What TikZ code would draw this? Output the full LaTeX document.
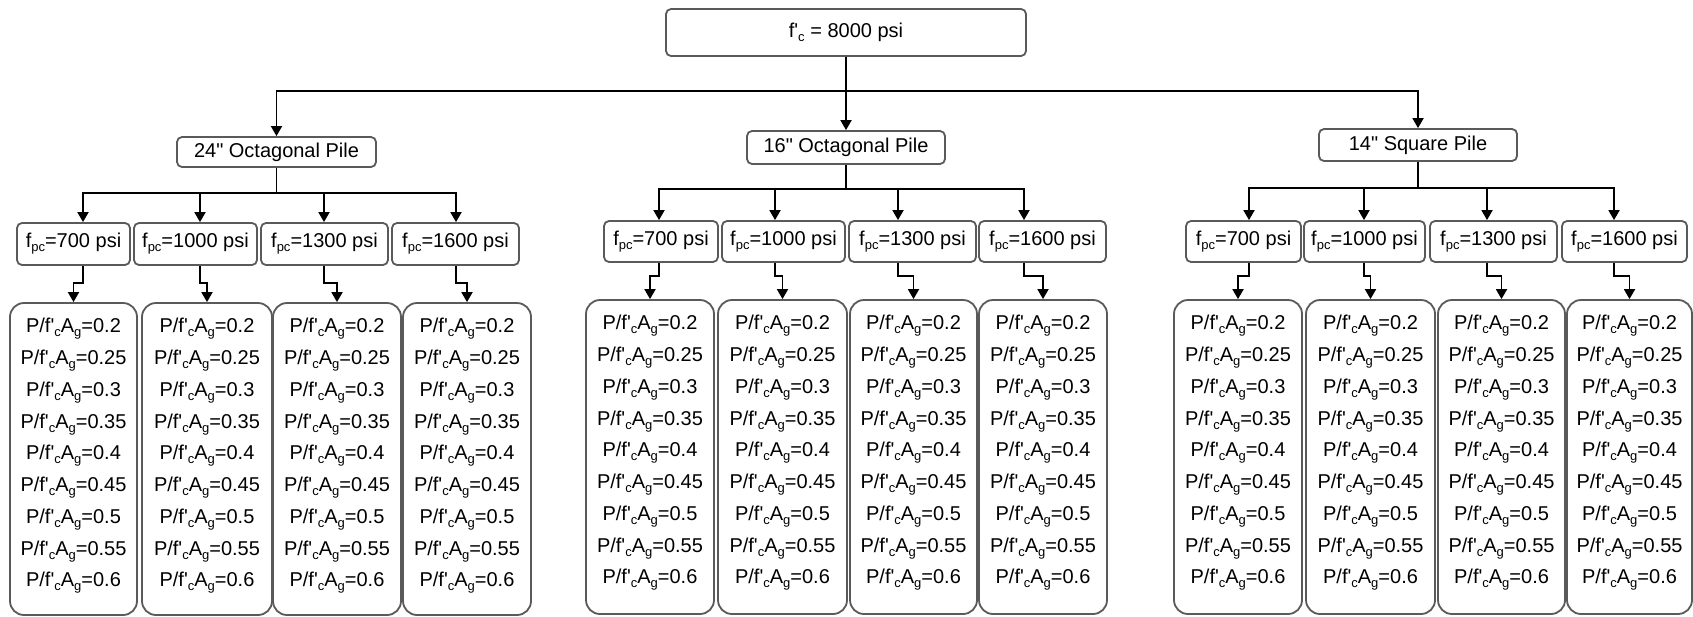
\documentclass[tikz,border=0pt]{standalone}
\usetikzlibrary{arrows.meta}
\font\fmain="Liberation Sans" at 20pt
\font\fsub="Liberation Sans" at 13pt
\newcommand\sbs[1]{\raisebox{-4pt}{\fsub #1}}
\newcommand\pl[1]{P/f'\sbs{c}A\sbs{g}=#1}
\newcommand\plist{\pl{0.2}\\\pl{0.25}\\\pl{0.3}\\\pl{0.35}\\\pl{0.4}\\\pl{0.45}\\\pl{0.5}\\\pl{0.55}\\\pl{0.6}}
\definecolor{bord}{HTML}{5A5A5A}
\begin{document}
\begin{tikzpicture}[x=1pt,y=-1pt,
  box/.style={draw=bord, line width=1.8pt, fill=white, inner sep=0pt, font=\fmain, rounded corners=5pt},
  fbox/.style={box, minimum height=42pt},
  pbox/.style={box, rounded corners=14pt,
     label={[anchor=north, yshift=-16pt, align=center, inner sep=0pt, font={\fmain\baselineskip=31.75pt}]north:\plist}},
  arr/.style={draw=black, line width=1.8pt, -{Triangle[width=11pt,length=10pt]}},
  conn/.style={draw=black, line width=1.8pt}]
\fill[white] (0,0) rectangle (1693,616);
\useasboundingbox (0,0) rectangle (1693,616);

% top
\node[box, minimum width=360pt, minimum height=47pt] (top) at (846,32.5) {f'\sbs{c} = 8000 psi};

% piles
\node[box, minimum width=199pt, minimum height=30pt] (m24) at (276.5,152) {24" Octagonal Pile};
\node[box, minimum width=198pt, minimum height=33pt] (m16) at (846,147.5) {16" Octagonal Pile};
\node[box, minimum width=198pt, minimum height=32pt] (m14) at (1418,145) {14" Square Pile};

% fpc boxes 24
\node[fbox, minimum width=113pt] (f24a) at (73.5,244) {f\sbs{pc}=700 psi};
\node[fbox, minimum width=123pt] (f24b) at (195.5,244) {f\sbs{pc}=1000 psi};
\node[fbox, minimum width=127pt] (f24c) at (324.5,244) {f\sbs{pc}=1300 psi};
\node[fbox, minimum width=127pt] (f24d) at (455.5,244) {f\sbs{pc}=1600 psi};
% fpc boxes 16
\node[fbox, minimum width=114pt, minimum height=41pt] (f16a) at (661,241.5) {f\sbs{pc}=700 psi};
\node[fbox, minimum width=123pt, minimum height=41pt] (f16b) at (783.5,241.5) {f\sbs{pc}=1000 psi};
\node[fbox, minimum width=127pt, minimum height=41pt] (f16c) at (912.5,241.5) {f\sbs{pc}=1300 psi};
\node[fbox, minimum width=127pt, minimum height=41pt] (f16d) at (1042.5,241.5) {f\sbs{pc}=1600 psi};
% fpc boxes 14
\node[fbox, minimum width=115pt, minimum height=41pt] (f14a) at (1243.5,241.5) {f\sbs{pc}=700 psi};
\node[fbox, minimum width=121pt, minimum height=41pt] (f14b) at (1364.5,241.5) {f\sbs{pc}=1000 psi};
\node[fbox, minimum width=127pt, minimum height=41pt] (f14c) at (1493.5,241.5) {f\sbs{pc}=1300 psi};
\node[fbox, minimum width=125pt, minimum height=41pt] (f14d) at (1624.5,241.5) {f\sbs{pc}=1600 psi};

% bottom boxes 24
\node[pbox, minimum width=127pt, minimum height=312pt] (p24a) at (73.5,459) {};
\node[pbox, minimum width=130pt, minimum height=312pt] (p24b) at (207,459) {};
\node[pbox, minimum width=128pt, minimum height=312pt] (p24c) at (337,459) {};
\node[pbox, minimum width=128pt, minimum height=312pt] (p24d) at (467,459) {};
% bottom boxes 16
\node[pbox, minimum width=128pt, minimum height=314pt] (p16a) at (650,457) {};
\node[pbox, minimum width=129pt, minimum height=314pt] (p16b) at (782.5,457) {};
\node[pbox, minimum width=127pt, minimum height=314pt] (p16c) at (913.5,457) {};
\node[pbox, minimum width=128pt, minimum height=314pt] (p16d) at (1043,457) {};
% bottom boxes 14
\node[pbox, minimum width=128pt, minimum height=314pt] (p14a) at (1238,457) {};
\node[pbox, minimum width=129pt, minimum height=314pt] (p14b) at (1370.5,457) {};
\node[pbox, minimum width=127pt, minimum height=314pt] (p14c) at (1501.5,457) {};
\node[pbox, minimum width=125pt, minimum height=314pt] (p14d) at (1629.5,457) {};

% top-level connectors
\coordinate (bus) at (846,91);
\draw[arr] (top.south) -- (m16.north);
\draw[arr] (top.south) -- (bus) -| (m24.north);
\draw[arr] (top.south) -- (bus) -| (m14.north);

% second level
\coordinate (b24) at (276.5,193);
\coordinate (b16) at (846,189);
\coordinate (b14) at (1418,188);
\draw[conn] (m24.south) -- (b24);
\draw[conn] (m16.south) -- (b16);
\draw[conn] (m14.south) -- (b14);
\draw[arr] (b24) -| ([xshift=9.5pt]f24a.north);
\draw[arr] (b24) -| ([xshift=4.5pt]f24b.north);
\draw[arr] (b24) -| ([xshift=-0.5pt]f24c.north);
\draw[arr] (b24) -| ([xshift=0.5pt]f24d.north);
\draw[arr] (b16) -| ([xshift=-2pt]f16a.north);
\draw[arr] (b16) -| ([xshift=-8.5pt]f16b.north);
\draw[arr] (b16) -| ([xshift=-14.5pt]f16c.north);
\draw[arr] (b16) -| ([xshift=-18.5pt]f16d.north);
\draw[arr] (b14) -| ([xshift=5.5pt]f14a.north);
\draw[arr] (b14) -| ([xshift=-0.5pt]f14b.north);
\draw[arr] (b14) -| ([xshift=-6.5pt]f14c.north);
\draw[arr] (b14) -| ([xshift=-10.5pt]f14d.north);

% third level
\draw[arr] ([xshift=9.5pt]f24a.south) |- ([yshift=19pt]p24a.north) -- (p24a.north);
\draw[arr] ([xshift=4.5pt]f24b.south) |- ([yshift=19pt]p24b.north) -- (p24b.north);
\draw[arr] ([xshift=-0.5pt]f24c.south) |- ([yshift=19pt]p24c.north) -- (p24c.north);
\draw[arr] ([xshift=0.5pt]f24d.south) |- ([yshift=19pt]p24d.north) -- (p24d.north);
\draw[arr] ([xshift=-2pt]f16a.south) |- ([yshift=23pt]p16a.north) -- (p16a.north);
\draw[arr] ([xshift=-8.5pt]f16b.south) |- ([yshift=23pt]p16b.north) -- (p16b.north);
\draw[arr] ([xshift=-14.5pt]f16c.south) |- ([yshift=23pt]p16c.north) -- (p16c.north);
\draw[arr] ([xshift=-18.5pt]f16d.south) |- ([yshift=23pt]p16d.north) -- (p16d.north);
\draw[arr] ([xshift=5.5pt]f14a.south) |- ([yshift=23pt]p14a.north) -- (p14a.north);
\draw[arr] ([xshift=-0.5pt]f14b.south) |- ([yshift=23pt]p14b.north) -- (p14b.north);
\draw[arr] ([xshift=-6.5pt]f14c.south) |- ([yshift=23pt]p14c.north) -- (p14c.north);
\draw[arr] ([xshift=-10.5pt]f14d.south) |- ([yshift=23pt]p14d.north) -- (p14d.north);
\end{tikzpicture}
\end{document}
